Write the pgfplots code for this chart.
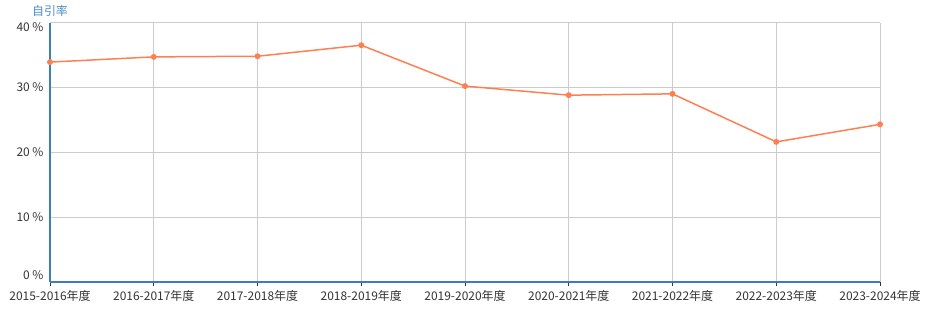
\documentclass[border=0pt]{standalone}
\usepackage{pgfplots}
\pgfplotsset{compat=1.18}
\usepackage{fontspec}
\setmainfont{Noto Sans CJK SC}
\definecolor{lineor}{HTML}{FF7F50}
\definecolor{axblue}{HTML}{3A7FB8}
\definecolor{lblblue}{HTML}{4A8CC4}
\definecolor{gridg}{HTML}{CCCCCC}
\definecolor{txt}{HTML}{333333}
\begin{document}
\begin{tikzpicture}
\path[use as bounding box] (0,0) rectangle (927bp,318bp);
\begin{axis}[
  at={(50bp,36bp)}, anchor=south west,
  scale only axis, width=830bp, height=259.5bp,
  xmin=0, xmax=8, ymin=0, ymax=40,
  axis x line*=bottom, axis y line*=left,
  axis line style={axblue, line width=1.6pt, -},
  xtick={0,...,8},
  xticklabels={2015-2016年度,2016-2017年度,2017-2018年度,2018-2019年度,2019-2020年度,2020-2021年度,2021-2022年度,2022-2023年度,2023-2024年度},
  ytick={0,10,20,30,40},
  yticklabels={\raisebox{7bp}[\height][\depth]{0 \%},10 \%,20 \%,30 \%,\raisebox{-5bp}[\height][\depth]{40 \%}},
  grid=major, major grid style={gridg, line width=0.8pt},
  tick label style={font=\fontsize{12}{14}\selectfont, text=txt},
  x tick label style={yshift=-1bp},
  y tick label style={xshift=-3bp},
  xtick style={draw=txt, line width=0.6pt},
  ytick style={draw=none},
  major tick length=4bp,
  xtick align=outside,
  clip=false,
]
\addplot[lineor, line width=1.5pt, mark=*, mark size=2.2pt, mark options={fill=lineor, draw=lineor}]
coordinates {(0,33.9) (1,34.7) (2,34.8) (3,36.5) (4,30.2) (5,28.8) (6,29.0) (7,21.6) (8,24.3)};
\end{axis}
\node[text=lblblue, font=\fontsize{12}{14}\selectfont] at (50bp,307bp) {自引率};
\end{tikzpicture}
\end{document}
